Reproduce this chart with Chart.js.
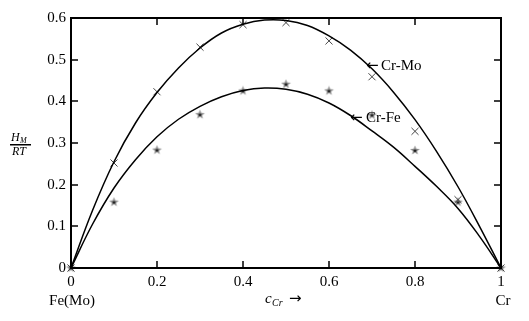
<!DOCTYPE html>
<html>
<head>
<meta charset="utf-8">
<script src="https://cdn.jsdelivr.net/npm/chart.js@4.4.0/dist/chart.umd.min.js"></script>
<style>
  html, body { margin: 0; padding: 0; background: #fff; }
</style>
</head>
<body>
<canvas id="mixChart" width="529" height="321"></canvas>
<script>
// measured compositions (x = c_Cr)
const conc = [0, 0.1, 0.2, 0.3, 0.4, 0.5, 0.6, 0.7, 0.8, 0.9, 1];
const crMoPoints = [0, 0.252, 0.423, 0.530, 0.584, 0.589, 0.545, 0.459, 0.328, 0.164, 0];
const crFePoints = [0, 0.158, 0.283, 0.368, 0.425, 0.441, 0.425, 0.367, 0.282, 0.158, 0];

// fitted curves
const curveX = [0, 0.05, 0.1, 0.15, 0.2, 0.25, 0.3, 0.35, 0.4, 0.45, 0.5,
                0.55, 0.6, 0.65, 0.7, 0.75, 0.8, 0.85, 0.9, 0.95, 1];
const crMoCurve = [0, 0.138, 0.255, 0.348, 0.421, 0.480, 0.528, 0.564, 0.585, 0.595, 0.594,
                   0.582, 0.557, 0.523, 0.478, 0.422, 0.356, 0.280, 0.195, 0.100, 0];
const crFeCurve = [0, 0.105, 0.192, 0.260, 0.315, 0.357, 0.388, 0.411, 0.426, 0.432, 0.429,
                   0.417, 0.396, 0.366, 0.329, 0.290, 0.244, 0.196, 0.143, 0.076, 0];

const xTicks = [0, 0.2, 0.4, 0.6, 0.8, 1];
const yTicks = [0, 0.1, 0.2, 0.3, 0.4, 0.5, 0.6];

const serif = '"Liberation Serif", "DejaVu Serif", serif';

function toXY(xs, ys) {
    return xs.map((x, i) => ({ x: x, y: ys[i] }));
}

// little five point star used for the Cr-Fe measurements
function makeStar() {
    const c = document.createElement('canvas');
    c.width = 11; c.height = 11;
    const g = c.getContext('2d');
    g.beginPath();
    for (let i = 0; i < 10; i++) {
        const r = i % 2 === 0 ? 5 : 2.1;
        const a = -Math.PI / 2 + i * Math.PI / 5;
        const px = 5.5 + r * Math.cos(a), py = 5.5 + r * Math.sin(a);
        if (i === 0) g.moveTo(px, py); else g.lineTo(px, py);
    }
    g.closePath();
    g.fillStyle = '#888';
    g.fill();
    g.fillStyle = '#111';
    g.beginPath();
    g.arc(5.5, 5.8, 1.3, 0, Math.PI * 2);
    g.fill();
    return c;
}

// frame, inward ticks and the text around the plot
const decorations = {
    id: 'decorations',
    afterDraw(chart) {
        const ctx = chart.ctx;
        const xs = chart.scales.x, ys = chart.scales.y;
        const L = Math.round(xs.getPixelForValue(0));
        const R = Math.round(xs.getPixelForValue(1));
        const T = Math.round(ys.getPixelForValue(0.6));
        const B = Math.round(ys.getPixelForValue(0));
        ctx.save();
        ctx.fillStyle = '#000';
        ctx.strokeStyle = '#000';
        // box, 2px like the original
        ctx.fillRect(L - 1, T - 1, R - L + 2, 2);
        ctx.fillRect(L - 1, B - 1, R - L + 2, 2);
        ctx.fillRect(L - 1, T - 1, 2, B - T + 2);
        ctx.fillRect(R - 1, T - 1, 2, B - T + 2);
        // ticks pointing inwards on all four sides
        const tl = 7;
        ctx.lineWidth = 1.5;
        ctx.beginPath();
        xTicks.slice(1, -1).forEach(v => {
            const px = Math.round(xs.getPixelForValue(v));
            ctx.moveTo(px, B); ctx.lineTo(px, B - tl);
            ctx.moveTo(px, T); ctx.lineTo(px, T + tl);
        });
        yTicks.slice(1, -1).forEach(v => {
            const py = Math.round(ys.getPixelForValue(v));
            ctx.moveTo(L, py); ctx.lineTo(L + tl, py);
            ctx.moveTo(R, py); ctx.lineTo(R - tl, py);
        });
        ctx.stroke();

        ctx.textBaseline = 'alphabetic';

        // curve labels with arrows
        ctx.textAlign = 'left';
        ctx.font = '15px "DejaVu Sans", sans-serif';
        ctx.fillText('\u2190', 366, 70);
        ctx.fillText('\u2190', 350, 122);
        ctx.font = '15px ' + serif;
        ctx.fillText('Cr-Mo', 381, 70);
        ctx.fillText('Cr-Fe', 366, 122);

        // end member names
        ctx.textAlign = 'center';
        ctx.fillText('Fe(Mo)', L + 1, 305);
        ctx.fillText('Cr', R + 2, 305);

        // x axis title: c_Cr ->
        ctx.textAlign = 'left';
        ctx.font = 'italic 15px ' + serif;
        ctx.fillText('c', 265, 303);
        ctx.font = 'italic 10px ' + serif;
        ctx.fillText('Cr', 272, 306);
        ctx.font = '15px "DejaVu Sans", sans-serif';
        ctx.fillText('\u2192', 289, 303);

        // y axis title: H_M / RT
        ctx.font = 'italic 12px ' + serif;
        ctx.fillText('H', 11, 141);
        ctx.font = 'italic 8px ' + serif;
        ctx.fillText('M', 20, 143);
        ctx.fillRect(10, 144, 21, 1.5);
        ctx.font = 'italic 12px ' + serif;
        ctx.fillText('RT', 12, 155);
        ctx.restore();
    }
};

const tickFont = { family: serif, size: 15 };

new Chart(document.getElementById('mixChart').getContext('2d'), {
    type: 'scatter',
    data: {
        datasets: [
            {
                label: 'Cr-Mo fit',
                data: toXY(curveX, crMoCurve),
                showLine: true,
                borderColor: '#000',
                borderWidth: 1.5,
                pointRadius: 0,
                tension: 0.4
            },
            {
                label: 'Cr-Fe fit',
                data: toXY(curveX, crFeCurve),
                showLine: true,
                borderColor: '#000',
                borderWidth: 1.5,
                pointRadius: 0,
                tension: 0.4
            },
            {
                label: 'Cr-Mo',
                data: toXY(conc, crMoPoints),
                pointStyle: 'crossRot',
                pointRadius: 5,
                borderColor: '#444',
                borderWidth: 1
            },
            {
                label: 'Cr-Fe',
                data: toXY(conc, crFePoints),
                pointStyle: makeStar(),
                pointRadius: 5
            }
        ]
    },
    options: {
        responsive: false,
        devicePixelRatio: 1,
        animation: false,
        clip: false,
        layout: { padding: { top: 18, right: 28, left: 0, bottom: 0 } },
        plugins: {
            legend: { display: false },
            tooltip: { enabled: false }
        },
        scales: {
            x: {
                type: 'linear',
                min: 0, max: 1,
                afterBuildTicks: s => { s.ticks = xTicks.map(v => ({ value: v })); },
                afterFit: s => { s.height = 53; },
                grid: { display: false, drawTicks: false, tickLength: 0 },
                border: { display: false },
                ticks: {
                    color: '#000',
                    font: tickFont,
                    padding: 5,
                    maxRotation: 0,
                    callback: v => String(v)
                }
            },
            y: {
                type: 'linear',
                min: 0, max: 0.6,
                afterBuildTicks: s => { s.ticks = yTicks.map(v => ({ value: v })); },
                afterFit: s => { s.width = 71; },
                grid: { display: false, drawTicks: false, tickLength: 0 },
                border: { display: false },
                ticks: {
                    color: '#000',
                    font: tickFont,
                    padding: 5,
                    callback: v => String(v)
                }
            }
        }
    },
    plugins: [decorations]
});
</script>
</body>
</html>
